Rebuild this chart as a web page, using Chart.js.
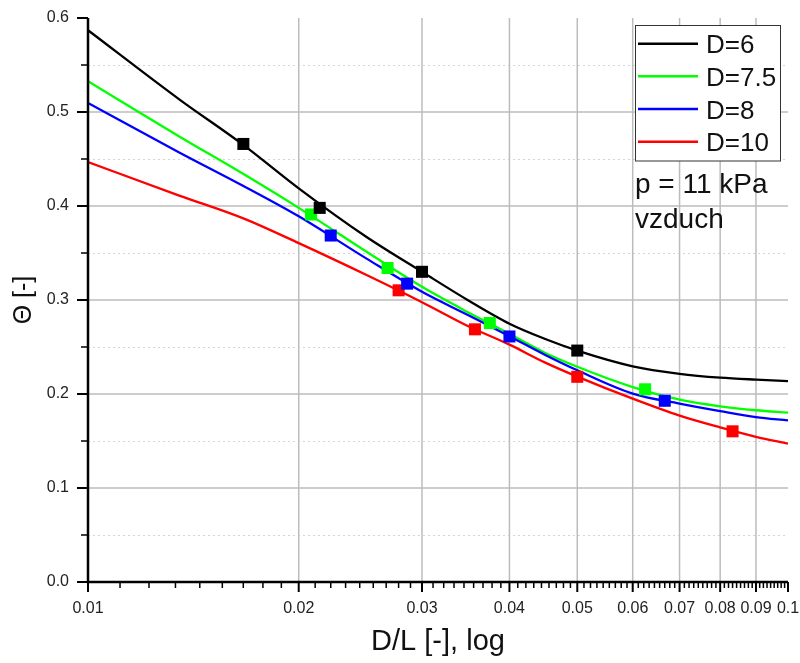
<!DOCTYPE html>
<html>
<head>
<meta charset="utf-8">
<script src="https://cdn.jsdelivr.net/npm/chart.js@4.4.1/dist/chart.umd.min.js"></script>
<style>
  html, body { margin: 0; padding: 0; background: #fff; }
  canvas { display: block; }
</style>
</head>
<body>
<canvas id="thetaChart" width="800" height="663"></canvas>
<script>
// ---- fitted curves, sampled along D/L ----
const curveDL = [0.01, 0.0135, 0.0167, 0.02, 0.025, 0.03, 0.035, 0.04, 0.045, 0.05, 0.06, 0.07, 0.08, 0.09, 0.1];
const fitD6   = [0.587, 0.5135, 0.4645, 0.4188, 0.367, 0.330, 0.2992, 0.2748, 0.2585, 0.2462, 0.2295, 0.2215, 0.2174, 0.2153, 0.2138];
const fitD75  = [0.5327, 0.474, 0.4337, 0.398, 0.3513, 0.314, 0.2865, 0.264, 0.2436, 0.229, 0.2074, 0.194, 0.1869, 0.1827, 0.1802];
const fitD8   = [0.5096, 0.457, 0.421, 0.389, 0.344, 0.3087, 0.2835, 0.2615, 0.2415, 0.2252, 0.2004, 0.1898, 0.1819, 0.1755, 0.172];
const fitD10  = [0.4468, 0.4111, 0.3866, 0.3605, 0.3266, 0.2977, 0.2718, 0.2525, 0.2334, 0.2185, 0.195, 0.177, 0.1645, 0.1545, 0.1472];

// ---- measured points (L = 360, 280, 200, 120) ----
const dlD6    = [0.01667, 0.02143, 0.03, 0.05];
const thD6    = [0.466, 0.398, 0.330, 0.2462];
const dlD75   = [0.02083, 0.02679, 0.0375, 0.0625];
const thD75   = [0.391, 0.334, 0.2755, 0.205];
const dlD8    = [0.02222, 0.02857, 0.04, 0.06667];
const thD8    = [0.3686, 0.3174, 0.2612, 0.1928];
const dlD10   = [0.02778, 0.03571, 0.05, 0.08333];
const thD10   = [0.3103, 0.2688, 0.2183, 0.1603];

// ---- axes ----
const xTickValues = [0.01, 0.02, 0.03, 0.04, 0.05, 0.06, 0.07, 0.08, 0.09, 0.1];
const xTickLabels = ["0.01", "0.02", "0.03", "0.04", "0.05", "0.06", "0.07", "0.08", "0.09", "0.1"];
const yTickValues = [0, 0.1, 0.2, 0.3, 0.4, 0.5, 0.6];
const yTickLabels = ["0.0", "0.1", "0.2", "0.3", "0.4", "0.5", "0.6"];

const seriesNames  = ["D=6", "D=7.5", "D=8", "D=10"];
const seriesColors = ["#000000", "#00ff00", "#0000ff", "#ff0000"];
const fits     = [fitD6, fitD75, fitD8, fitD10];
const measDL   = [dlD6, dlD75, dlD8, dlD10];
const measTh   = [thD6, thD75, thD8, thD10];

const FONT = "'Liberation Sans', Arial, sans-serif";
const pairs = (xs, ys) => xs.map((v, i) => ({ x: v, y: ys[i] }));

const datasets = [];
seriesNames.forEach((name, i) => {
  datasets.push({
    label: name,
    data: pairs(curveDL, fits[i]),
    showLine: true,
    borderColor: seriesColors[i],
    borderWidth: 2.3,
    pointRadius: 0,
    cubicInterpolationMode: "monotone",
    order: 10 - i
  });
  datasets.push({
    label: name + " meas",
    data: pairs(measDL[i], measTh[i]),
    showLine: false,
    pointStyle: "rect",
    pointRadius: 8.5,
    backgroundColor: seriesColors[i],
    borderWidth: 0,
    order: 0
  });
});

// keep the plot box fixed: no extra room for overhanging labels
const noOverhang = s => {
  s.paddingLeft = 0; s.paddingRight = 0;
  s.paddingTop = 0; s.paddingBottom = 0;
};

// grid, axis lines, tick marks and the legend box
const frame = {
  id: "frame",
  beforeDatasetsDraw(chart) {
    const { ctx, chartArea: a, scales: { x, y } } = chart;
    ctx.save();
    // dotted half-steps on y
    ctx.strokeStyle = "#d4d4d4";
    ctx.lineWidth = 1;
    ctx.setLineDash([2, 3]);
    for (let v = 0.05; v < 0.6; v += 0.1) {
      const py = Math.round(y.getPixelForValue(v)) + 0.5;
      ctx.beginPath(); ctx.moveTo(a.left, py); ctx.lineTo(a.right, py); ctx.stroke();
    }
    ctx.setLineDash([]);
    ctx.strokeStyle = "#bcbcbc";
    ctx.lineWidth = 1.5;
    yTickValues.slice(1, -1).forEach(v => {
      const py = y.getPixelForValue(v);
      ctx.beginPath(); ctx.moveTo(a.left, py); ctx.lineTo(a.right, py); ctx.stroke();
    });
    xTickValues.slice(1, -1).forEach(v => {
      const px = x.getPixelForValue(v);
      ctx.beginPath(); ctx.moveTo(px, a.top); ctx.lineTo(px, a.bottom); ctx.stroke();
    });
    ctx.restore();
  },
  afterDatasetsDraw(chart) {
    const { ctx, chartArea: a, scales: { x, y } } = chart;
    ctx.save();
    ctx.strokeStyle = "#000";
    // x ticks: majors plus 8 minors between each pair
    for (let k = 0; k < xTickValues.length; k++) {
      const v0 = xTickValues[k];
      const px = x.getPixelForValue(v0);
      ctx.lineWidth = 2;
      ctx.beginPath(); ctx.moveTo(px, a.bottom); ctx.lineTo(px, a.bottom + 10); ctx.stroke();
      if (k < xTickValues.length - 1) {
        const step = (xTickValues[k + 1] - v0) / 9;
        ctx.lineWidth = 1.5;
        for (let j = 1; j < 9; j++) {
          const pm = x.getPixelForValue(v0 + j * step);
          ctx.beginPath(); ctx.moveTo(pm, a.bottom); ctx.lineTo(pm, a.bottom + 6); ctx.stroke();
        }
      }
    }
    // y ticks
    yTickValues.forEach(v => {
      const py = y.getPixelForValue(v);
      ctx.lineWidth = 2;
      ctx.beginPath(); ctx.moveTo(a.left - 11, py); ctx.lineTo(a.left, py); ctx.stroke();
      if (v < 0.6) {
        const pm = y.getPixelForValue(v + 0.05);
        ctx.lineWidth = 1.5;
        ctx.beginPath(); ctx.moveTo(a.left - 7, pm); ctx.lineTo(a.left, pm); ctx.stroke();
      }
    });
    // axis lines
    ctx.lineWidth = 2.5;
    ctx.beginPath();
    ctx.moveTo(a.left, a.top);
    ctx.lineTo(a.left, a.bottom);
    ctx.lineTo(a.right, a.bottom);
    ctx.stroke();
    ctx.restore();
  },
  afterDraw(chart) {
    const ctx = chart.ctx;
    ctx.save();
    ctx.fillStyle = "#fff";
    ctx.fillRect(635.5, 25.5, 145, 135.5);
    ctx.strokeStyle = "#333";
    ctx.lineWidth = 1;
    ctx.strokeRect(635.5, 25.5, 145, 135.5);
    ctx.font = "26px " + FONT;
    ctx.textBaseline = "alphabetic";
    ctx.textAlign = "left";
    const rowY = [43.7, 76.3, 109, 141.7];
    seriesNames.forEach((name, i) => {
      ctx.strokeStyle = seriesColors[i];
      ctx.lineWidth = 2.5;
      ctx.beginPath(); ctx.moveTo(638, rowY[i]); ctx.lineTo(698, rowY[i]); ctx.stroke();
      ctx.fillStyle = "#111";
      ctx.fillText(name, 706, rowY[i] + 9.5);
    });
    ctx.fillStyle = "#111";
    ctx.font = "28px " + FONT;
    ctx.fillText("p = 11 kPa", 635, 193);
    ctx.fillText("vzduch", 635, 228);
    ctx.restore();
  }
};

new Chart(document.getElementById("thetaChart"), {
  type: "scatter",
  data: { datasets },
  plugins: [frame],
  options: {
    responsive: false,
    animation: false,
    layout: { padding: { top: 18, right: 12, left: 0, bottom: 0 } },
    plugins: { legend: { display: false }, tooltip: { enabled: false } },
    scales: {
      x: {
        type: "logarithmic",
        min: 0.01,
        max: 0.1,
        grid: { display: false, drawTicks: false },
        border: { display: false },
        afterBuildTicks: s => { s.ticks = xTickValues.map(v => ({ value: v })); },
        afterFit: s => { s.height = 81; noOverhang(s); },
        ticks: {
          autoSkip: false,
          maxRotation: 0,
          padding: 17,
          color: "#222",
          font: { family: FONT, size: 16 },
          callback: (v, i) => xTickLabels[i]
        },
        title: {
          display: true,
          text: "D/L [-], log",
          color: "#111",
          font: { family: FONT, size: 29 },
          padding: { top: 0, bottom: 4 }
        }
      },
      y: {
        min: 0,
        max: 0.6,
        grid: { display: false, drawTicks: false },
        border: { display: false },
        afterBuildTicks: s => { s.ticks = yTickValues.map(v => ({ value: v })); },
        afterFit: s => { s.width = 88; noOverhang(s); },
        ticks: {
          padding: 19,
          color: "#222",
          font: { family: FONT, size: 16 },
          callback: (v, i) => yTickLabels[i]
        },
        title: {
          display: true,
          text: "Θ [-]",
          color: "#111",
          font: { family: FONT, size: 25 },
          padding: { top: 9, bottom: 0 }
        }
      }
    }
  }
});
</script>
</body>
</html>
